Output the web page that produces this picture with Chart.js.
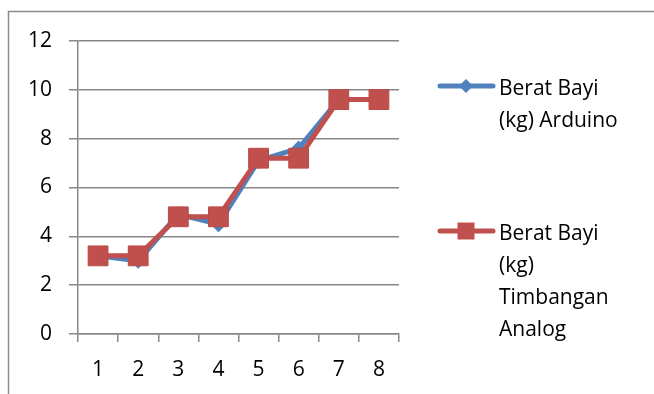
<!DOCTYPE html>
<html>
<head>
<meta charset="utf-8">
<script src="https://cdn.jsdelivr.net/npm/chart.js@4/dist/chart.umd.min.js"></script>
<style>
  html, body { margin: 0; padding: 0; background: #ffffff; }
  canvas { display: block; }
</style>
</head>
<body>
<canvas id="chart" width="654" height="394"></canvas>
<script>
// Baby weight readings: Arduino scale vs. analog scale
const categories = ['1', '2', '3', '4', '5', '6', '7', '8'];
const arduinoKg = [3.2, 3.0, 4.9, 4.5, 7.1, 7.6, 9.6, 9.6];
const analogKg = [3.2, 3.2, 4.8, 4.8, 7.2, 7.2, 9.6, 9.6];
const yTickValues = [0, 2, 4, 6, 8, 10, 12];
const arduinoLabel = ['Berat Bayi', '(kg) Arduino'];
const analogLabel = ['Berat Bayi', '(kg)', 'Timbangan', 'Analog'];

const BLUE = '#4F81BD';
const RED = '#C0504D';
const GRID = '#878787';
const FONT = '"Open Sans", "DejaVu Sans", sans-serif';
const FONT_SIZE = 21;

// Outer chart frame (left and top edges)
const framePlugin = {
  id: 'frame',
  beforeDraw(chart) {
    const ctx = chart.ctx;
    ctx.save();
    ctx.strokeStyle = '#8c8c8c';
    ctx.lineWidth = 1.5;
    ctx.beginPath();
    ctx.moveTo(8.5, chart.height);
    ctx.lineTo(8.5, 11.5);
    ctx.lineTo(chart.width, 11.5);
    ctx.stroke();
    ctx.restore();
  }
};

// Legend on the right: line + marker, wrapped series names
const sideLegendPlugin = {
  id: 'sideLegend',
  afterDraw(chart) {
    const ctx = chart.ctx;
    const entries = [
      { color: BLUE, style: 'diamond', y: 86, lines: arduinoLabel },
      { color: RED, style: 'square', y: 231, lines: analogLabel }
    ];
    ctx.save();
    entries.forEach(e => {
      ctx.strokeStyle = e.color;
      ctx.lineWidth = 5;
      ctx.lineCap = 'round';
      ctx.beginPath();
      ctx.moveTo(440, e.y);
      ctx.lineTo(493, e.y);
      ctx.stroke();
      ctx.fillStyle = e.color;
      ctx.beginPath();
      if (e.style === 'diamond') {
        const r = 7;
        ctx.moveTo(466, e.y - r);
        ctx.lineTo(466 + r, e.y);
        ctx.lineTo(466, e.y + r);
        ctx.lineTo(466 - r, e.y);
        ctx.closePath();
      } else {
        ctx.rect(466 - 8.5, e.y - 8.5, 17, 17);
      }
      ctx.fill();
      ctx.fillStyle = '#000000';
      ctx.font = FONT_SIZE + 'px ' + FONT;
      ctx.textAlign = 'left';
      ctx.textBaseline = 'middle';
      e.lines.forEach((t, i) => {
        ctx.fillText(t, 499, e.y + 3 + i * 32);
      });
    });
    ctx.restore();
  }
};

new Chart(document.getElementById('chart'), {
  type: 'line',
  data: {
    labels: categories,
    datasets: [
      {
        label: arduinoLabel.join(' '),
        data: arduinoKg,
        borderColor: BLUE,
        backgroundColor: BLUE,
        borderWidth: 5,
        pointStyle: 'rectRot',
        pointRadius: 8,
        pointBorderWidth: 0,
        tension: 0,
        order: 1
      },
      {
        label: analogLabel.join(' '),
        data: analogKg,
        borderColor: RED,
        backgroundColor: RED,
        borderWidth: 5,
        pointStyle: 'rect',
        pointRadius: 14,
        pointBorderColor: '#BA4A47',
        pointBorderWidth: 1,
        tension: 0,
        order: 0
      }
    ]
  },
  options: {
    responsive: false,
    animation: false,
    devicePixelRatio: 1,
    layout: { padding: { left: 0, top: 41, right: 255, bottom: 0 } },
    plugins: {
      legend: { display: false },
      tooltip: { enabled: false }
    },
    scales: {
      x: {
        type: 'category',
        offset: true,
        grid: {
          offset: true,
          drawOnChartArea: false,
          drawTicks: true,
          tickLength: 8,
          color: GRID,
          lineWidth: 1.5
        },
        border: { display: true, color: GRID, width: 1.5 },
        ticks: {
          color: '#000000',
          font: { family: FONT, size: FONT_SIZE },
          padding: 15,
          maxRotation: 0
        },
        afterFit(scale) { scale.height = 60; }
      },
      y: {
        min: 0,
        max: 12,
        afterBuildTicks(scale) {
          scale.ticks = yTickValues.map(v => ({ value: v }));
        },
        grid: {
          drawTicks: true,
          tickLength: 9,
          color: GRID,
          lineWidth: 1.5
        },
        border: { display: true, color: GRID, width: 1.5 },
        ticks: {
          color: '#000000',
          font: { family: FONT, size: FONT_SIZE },
          padding: 17
        },
        afterFit(scale) { scale.width = 78; }
      }
    }
  },
  plugins: [framePlugin, sideLegendPlugin]
});
</script>
</body>
</html>
